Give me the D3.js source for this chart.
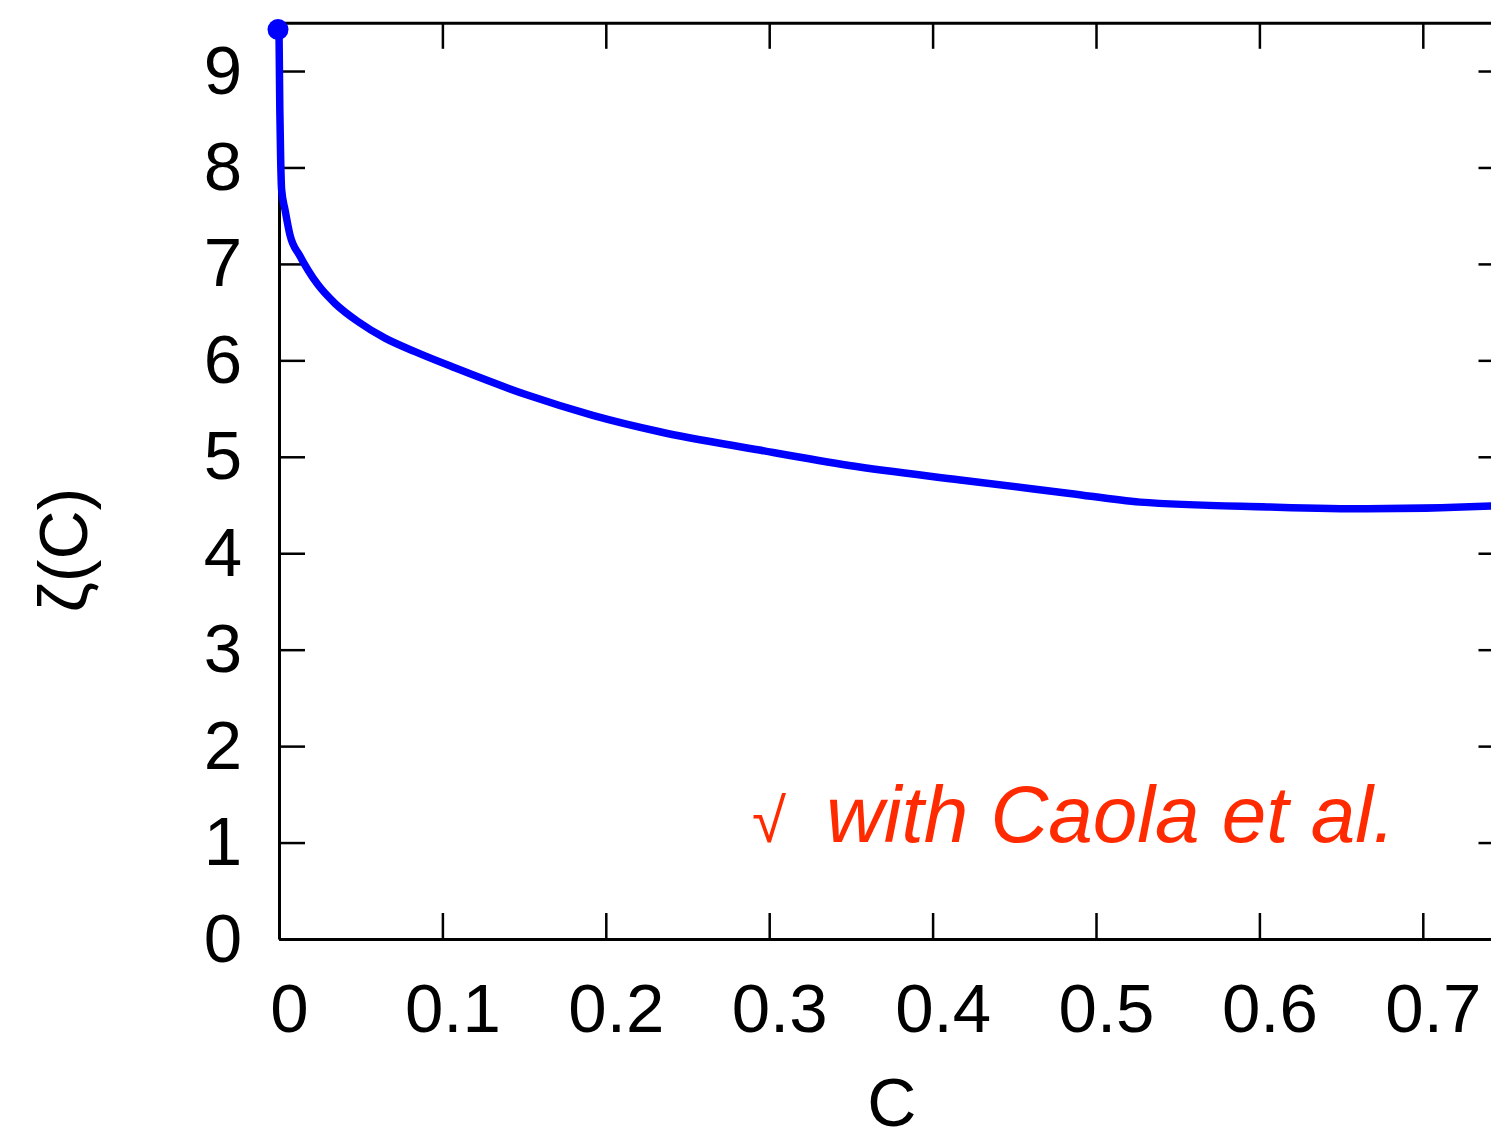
<!DOCTYPE html>
<html>
<head>
<meta charset="utf-8">
<script src="https://cdn.jsdelivr.net/npm/d3@7"></script>
<style>
  body { margin: 0; background: #fff; }
  svg { display: block; }
</style>
</head>
<body>
<div id="plot"></div>
<script>
// curve values
const cValues = [0, 0.0005, 0.001, 0.0016, 0.0037, 0.0067, 0.0129, 0.018, 0.024, 0.0343, 0.0485, 0.0649, 0.0832, 0.108, 0.152, 0.192, 0.233, 0.294, 0.349, 0.417, 0.484, 0.527, 0.605, 0.666, 0.742, 0.75];
const zetaValues = [9.43, 8.6, 8.1, 7.77, 7.56, 7.3, 7.08, 6.93, 6.78, 6.59, 6.40, 6.23, 6.09, 5.92, 5.64, 5.43, 5.26, 5.07, 4.91, 4.76, 4.62, 4.53, 4.48, 4.46, 4.49, 4.5];

const xTicks = [0, 0.1, 0.2, 0.3, 0.4, 0.5, 0.6, 0.7];
const yTicks = [0, 1, 2, 3, 4, 5, 6, 7, 8, 9];
const xTickLabels = ['0', '0.1', '0.2', '0.3', '0.4', '0.5', '0.6', '0.7'];

const xLabel = 'C';
const yLabel = 'ζ(C)';
const noteMark = '√';
const noteText = 'with Caola et al.';

const width = 1491;
const height = 1134;
const margin = { top: 22.8, right: -13.5, bottom: 195, left: 279 };

const fontFamily = '"Liberation Sans", Arial, Helvetica, sans-serif';
const tickLen = 26;

const svg = d3.select('#plot')
  .append('svg')
  .attr('width', width)
  .attr('height', height)
  .attr('xmlns', 'http://www.w3.org/2000/svg');

const x = d3.scaleLinear()
  .domain([0, 0.75])
  .range([margin.left, width - margin.right]);

const y = d3.scaleLinear()
  .domain([0, 9.5])
  .range([height - margin.bottom, margin.top]);

// axes: ticks point inwards on all four sides
const styleAxis = (g) => {
  g.select('.domain').attr('stroke', '#000').attr('stroke-width', 3);
  g.selectAll('.tick line').attr('stroke', '#000').attr('stroke-width', 2.5);
  g.selectAll('.tick text')
    .attr('fill', '#000')
    .style('font-family', fontFamily)
    .style('font-size', '69px');
};

svg.append('g')
  .attr('transform', `translate(0,${y(0)})`)
  .call(d3.axisBottom(x)
    .tickValues(xTicks)
    .tickFormat((d, i) => xTickLabels[i])
    .tickSizeInner(-tickLen)
    .tickSizeOuter(0)
    .tickPadding(44))
  .call(styleAxis)
  .selectAll('.tick text')
  .attr('dx', 10);

svg.append('g')
  .attr('transform', `translate(0,${y(9.5)})`)
  .call(d3.axisTop(x)
    .tickValues(xTicks)
    .tickFormat('')
    .tickSizeInner(-tickLen)
    .tickSizeOuter(0))
  .call(styleAxis);

svg.append('g')
  .attr('transform', `translate(${x(0)},0)`)
  .call(d3.axisLeft(y)
    .tickValues(yTicks)
    .tickFormat(d3.format('d'))
    .tickSizeInner(-tickLen)
    .tickSizeOuter(0)
    .tickPadding(37))
  .call(styleAxis);

svg.append('g')
  .attr('transform', `translate(${x(0.75)},0)`)
  .call(d3.axisRight(y)
    .tickValues(yTicks)
    .tickFormat('')
    .tickSizeInner(-tickLen)
    .tickSizeOuter(0))
  .call(styleAxis);

// axis titles
svg.append('text')
  .attr('x', (x(0) + x(0.75)) / 2)
  .attr('y', 1126)
  .attr('text-anchor', 'middle')
  .attr('fill', '#000')
  .style('font-family', fontFamily)
  .style('font-size', '68px')
  .text(xLabel);

svg.append('text')
  .attr('transform', 'translate(87,550) rotate(-90)')
  .attr('text-anchor', 'middle')
  .attr('fill', '#000')
  .style('font-family', fontFamily)
  .style('font-size', '68px')
  .text(yLabel);

// the curve
const points = cValues.map((c, i) => ({ c: c, z: zetaValues[i] }));

const line = d3.line()
  .x(d => x(d.c))
  .y(d => y(d.z))
  .curve(d3.curveMonotoneX);

svg.append('path')
  .datum(points)
  .attr('d', line)
  .attr('fill', 'none')
  .attr('stroke', '#0000ff')
  .attr('stroke-width', 7.5)
  .attr('stroke-linejoin', 'round');

svg.append('circle')
  .attr('cx', x(points[0].c) - 1)
  .attr('cy', y(points[0].z))
  .attr('r', 10.5)
  .attr('fill', '#0000ff');

// red note
const noteEl = svg.append('text')
  .attr('y', 842)
  .attr('fill', '#ff2a00')
  .style('font-family', fontFamily)
  .style('font-style', 'italic');

noteEl.append('tspan')
  .attr('x', 752)
  .style('font-size', '62px')
  .text(noteMark);

noteEl.append('tspan')
  .attr('x', 826)
  .style('font-size', '80px')
  .text(noteText);
</script>
</body>
</html>
